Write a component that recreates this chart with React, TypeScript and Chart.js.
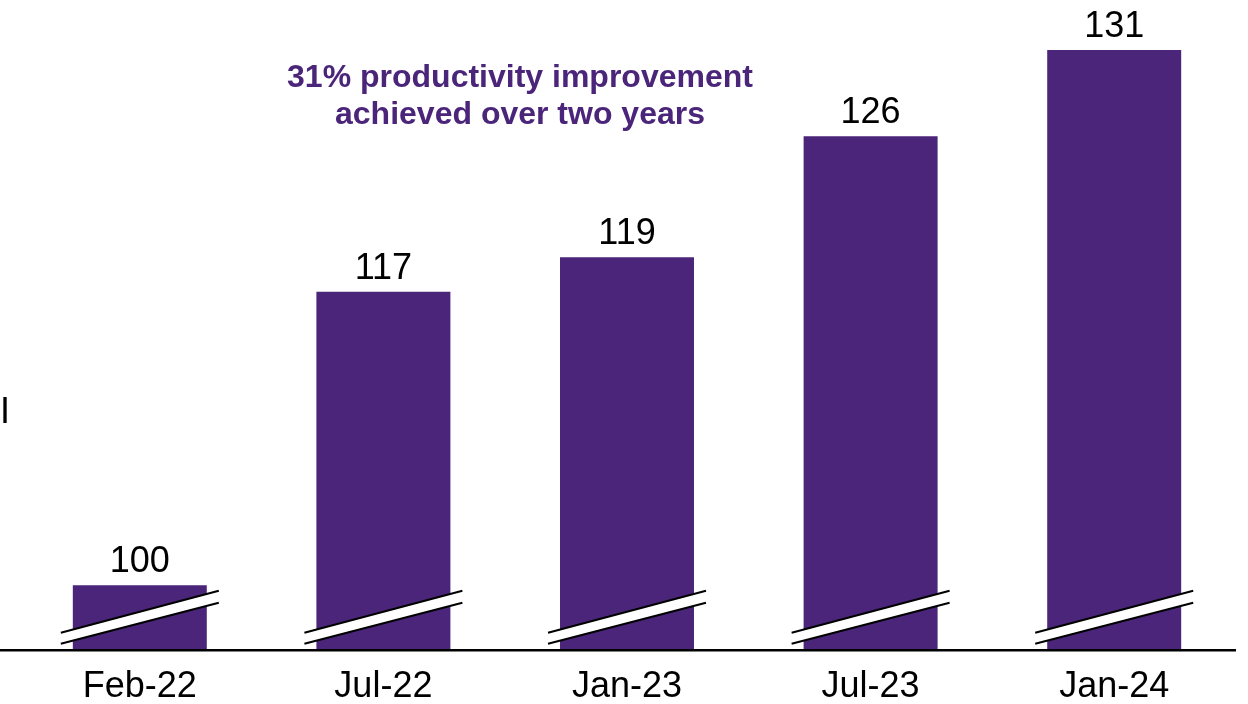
import React, { useEffect, useRef } from "react";
import { Chart, registerables } from "chart.js";

Chart.register(...registerables);

const categories = ["Feb-22", "Jul-22", "Jan-23", "Jul-23", "Jan-24"];
const productivityIndex = [100, 117, 119, 126, 131];
const annotationLines = ["31% productivity improvement", "achieved over two years"];
const sideLabel = "I";

const PURPLE = "#4a2579";
const FONT = "'Liberation Sans', Arial, sans-serif";

const overlayPlugin = {
  id: "overlay",
  afterDatasetsDraw(chart: any) {
    const ctx = chart.ctx;
    const meta = chart.getDatasetMeta(0);
    const yScale = chart.scales.y;
    const base = yScale.bottom;
    ctx.save();
    // axis-break marks
    meta.data.forEach((bar: any) => {
      const w = bar.width;
      const x1 = bar.x - w / 2 - 12;
      const x2 = bar.x + w / 2 + 12;
      const uL = base - 18, uR = base - 60;
      const lL = base - 7, lR = base - 48;
      ctx.beginPath();
      ctx.moveTo(x1, uL);
      ctx.lineTo(x2, uR);
      ctx.lineTo(x2, lR);
      ctx.lineTo(x1, lL);
      ctx.closePath();
      ctx.fillStyle = "#ffffff";
      ctx.fill();
      ctx.strokeStyle = "#000000";
      ctx.lineWidth = 2;
      ctx.beginPath();
      ctx.moveTo(x1, uL);
      ctx.lineTo(x2, uR);
      ctx.moveTo(x1, lL);
      ctx.lineTo(x2, lR);
      ctx.stroke();
    });
    // value labels
    ctx.fillStyle = "#000000";
    ctx.font = `36px ${FONT}`;
    ctx.textAlign = "center";
    ctx.textBaseline = "alphabetic";
    meta.data.forEach((bar: any, i: number) => {
      ctx.fillText(String(productivityIndex[i]), bar.x, bar.y - 13);
    });
    // baseline axis line
    ctx.strokeStyle = "#000000";
    ctx.lineWidth = 2.5;
    ctx.beginPath();
    ctx.moveTo(0, base - 0.5);
    ctx.lineTo(chart.chartArea.right, base - 0.5);
    ctx.stroke();
    // annotation
    ctx.fillStyle = PURPLE;
    ctx.font = `bold 32px ${FONT}`;
    ctx.textAlign = "center";
    ctx.fillText(annotationLines[0], 520, 87);
    ctx.fillText(annotationLines[1], 520, 124);
    // side label
    ctx.fillStyle = "#000000";
    ctx.font = `36px ${FONT}`;
    ctx.textAlign = "left";
    ctx.fillText(sideLabel, 0, 423);
    ctx.restore();
  },
};

export default function App() {
  const ref = useRef<HTMLCanvasElement | null>(null);
  useEffect(() => {
    if (!ref.current) return;
    const chart = new Chart(ref.current, {
      type: "bar",
      data: {
        labels: categories,
        datasets: [
          {
            data: productivityIndex,
            backgroundColor: PURPLE,
            borderWidth: 0,
            categoryPercentage: 1,
            barPercentage: 0.55,
          },
        ],
      },
      options: {
        animation: false,
        responsive: false,
        maintainAspectRatio: false,
        devicePixelRatio: 1,
        layout: { padding: { left: 18, right: 12, top: 0, bottom: -12 } },
        plugins: { legend: { display: false }, tooltip: { enabled: false } },
        scales: {
          x: {
            grid: { display: false },
            border: { display: false },
            ticks: { color: "#000000", font: { family: FONT, size: 36 }, padding: 7, maxRotation: 0 },
          },
          y: {
            display: false,
            min: 96.2,
            max: 133.9,
          },
        },
      },
      plugins: [overlayPlugin],
    });
    return () => chart.destroy();
  }, []);
  return (
    <div style={{ position: "fixed", left: 0, top: 0, width: 1248, height: 704, background: "#fff" }}>
      <canvas ref={ref} width={1248} height={704} style={{ width: 1248, height: 704 }} />
    </div>
  );
}
